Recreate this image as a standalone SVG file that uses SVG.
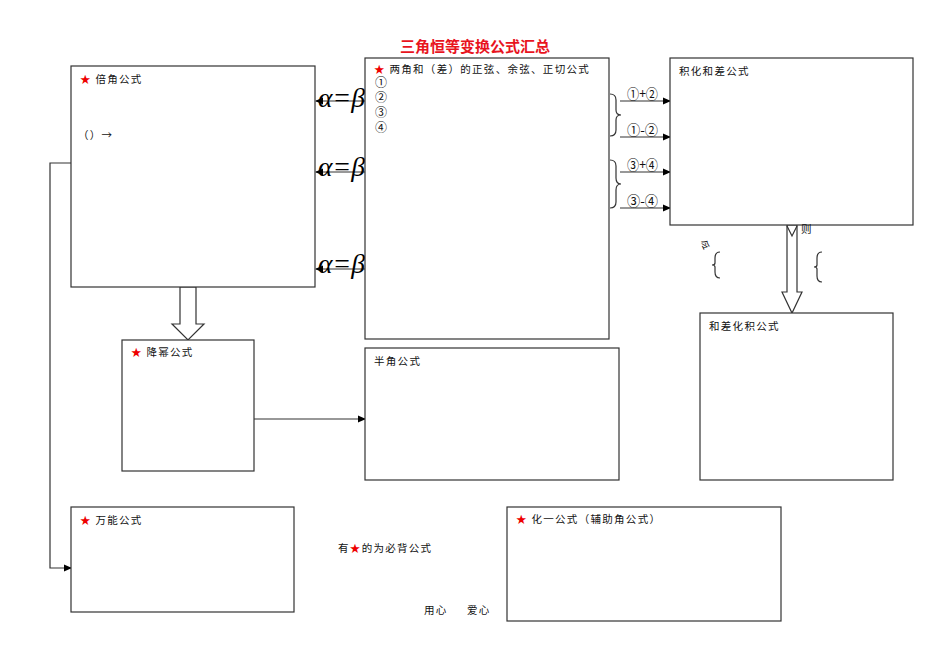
<svg xmlns="http://www.w3.org/2000/svg" width="950" height="672" viewBox="0 0 950 672">
<defs>
<marker id="ah" markerWidth="8" markerHeight="8" refX="7" refY="4" orient="auto" markerUnits="userSpaceOnUse">
<path d="M0,0.5 L8,4 L0,7.5 Z" fill="#000"/>
</marker>
<style>
.box{fill:#fff;stroke:#333;stroke-width:1.2}
.t{font-family:"Noto Sans CJK SC","Noto Sans CJK JP",sans-serif;font-size:10.5px;fill:#111;letter-spacing:1.3px}
.s{fill:#e00}
.ln{stroke:#333;stroke-width:1.2;fill:none}
.ab{font-family:"Liberation Serif",serif;font-style:italic;font-size:28px;fill:#000}
.lab{font-family:"Noto Sans CJK SC","Noto Sans CJK JP",sans-serif;font-size:14px;fill:#111}
.num{font-family:"Noto Sans CJK SC","Noto Sans CJK JP",sans-serif;font-size:12px;fill:#111}
</style>
</defs>
<rect width="950" height="672" fill="#fff"/>
<text x="475" y="52" text-anchor="middle" font-family="Noto Sans CJK SC,sans-serif" font-size="15" font-weight="bold" fill="#e8141e">三角恒等变换公式汇总</text>

<g id="connectors">
<line class="ln" x1="365" y1="101" x2="316" y2="101" marker-end="url(#ah)"/>
<line class="ln" x1="365" y1="172" x2="316" y2="172" marker-end="url(#ah)"/>
<line class="ln" x1="365" y1="269" x2="316" y2="269" marker-end="url(#ah)"/>
<line class="ln" x1="620" y1="101" x2="670" y2="101" marker-end="url(#ah)"/>
<line class="ln" x1="620" y1="137" x2="670" y2="137" marker-end="url(#ah)"/>
<line class="ln" x1="620" y1="172" x2="670" y2="172" marker-end="url(#ah)"/>
<line class="ln" x1="620" y1="208" x2="670" y2="208" marker-end="url(#ah)"/>
<path class="ln" d="M610,94 Q616,94 616,100 L616,110 Q616,115 621,115 Q616,115 616,120 L616,130 Q616,136 610,136"/>
<path class="ln" d="M610,160 Q616,160 616,166 L616,178 Q616,184 621,184 Q616,184 616,190 L616,202 Q616,208 610,208"/>
<line class="ln" x1="254" y1="419" x2="365" y2="419" marker-end="url(#ah)"/>
<polyline class="ln" points="71,163 50,163 50,568 71,568" marker-end="url(#ah)"/>
<path d="M180,287 L180,324 L172,324 L188,340 L204,324 L196,324 L196,287 Z" fill="#fff" stroke="#333" stroke-width="1.2"/>
<path d="M787,225 L787,292 L782,292 L792,313 L802,292 L797,292 L797,225 Z" fill="#fff" stroke="#333" stroke-width="1.2"/>
<path class="ln" d="M787,226 L792,236 L797,226"/>
</g>

<g id="ab-labels">
<text class="ab" x="318" y="107" textLength="47" lengthAdjust="spacingAndGlyphs">α=β</text>
<text class="ab" x="318" y="176" textLength="47" lengthAdjust="spacingAndGlyphs">α=β</text>
<text class="ab" x="318" y="273" textLength="47" lengthAdjust="spacingAndGlyphs">α=β</text>
<text class="lab" x="627" y="99" textLength="31" lengthAdjust="spacingAndGlyphs">①+②</text>
<text class="lab" x="627" y="135" textLength="31" lengthAdjust="spacingAndGlyphs">①-②</text>
<text class="lab" x="627" y="170" textLength="31" lengthAdjust="spacingAndGlyphs">③+④</text>
<text class="lab" x="627" y="206" textLength="31" lengthAdjust="spacingAndGlyphs">③-④</text>
</g>

<g id="node-beijiao">
<rect class="box" x="71" y="66" width="244" height="221"/>
<text class="t" x="80" y="83"><tspan class="s">★</tspan> 倍角公式</text>
<text class="t" x="78" y="139">（）→</text>
</g>

<g id="node-liangjiao">
<rect class="box" x="365" y="58" width="244" height="281"/>
<text class="t" x="374" y="73"><tspan class="s">★</tspan> 两角和（差）的正弦、余弦、正切公式</text>
<text class="num" x="375" y="87">①</text>
<text class="num" x="375" y="102">②</text>
<text class="num" x="375" y="117">③</text>
<text class="num" x="375" y="132">④</text>
</g>

<g id="node-jihua">
<rect class="box" x="670" y="58" width="243" height="167"/>
<text class="t" x="679" y="75">积化和差公式</text>
</g>

<g id="node-hecha">
<rect class="box" x="700" y="313" width="193" height="167"/>
<text class="t" x="709" y="330">和差化积公式</text>
</g>
<g id="hecha-notes">
<text class="t" x="801" y="233">则</text>
<text class="t" x="700" y="249" transform="rotate(30 705 244)">令</text>
<path class="ln" d="M720,252 Q715,252 715,258 L715,263 Q715,265 712,265 Q715,265 715,267 L715,272 Q715,278 720,278"/>
<path class="ln" d="M822,252 Q817,252 817,258 L817,265 Q817,267 814,267 Q817,267 817,269 L817,276 Q817,282 822,282"/>
</g>

<g id="node-jiangmi">
<rect class="box" x="122" y="340" width="132" height="131"/>
<text class="t" x="131" y="356"><tspan class="s">★</tspan> 降幂公式</text>
</g>

<g id="node-banjiao">
<rect class="box" x="365" y="348" width="254" height="132"/>
<text class="t" x="374" y="365">半角公式</text>
</g>

<g id="node-wanneng">
<rect class="box" x="71" y="507" width="223" height="105"/>
<text class="t" x="80" y="524"><tspan class="s">★</tspan> 万能公式</text>
</g>

<g id="node-huayi">
<rect class="box" x="507" y="507" width="274" height="114"/>
<text class="t" x="516" y="523"><tspan class="s">★</tspan> 化一公式（辅助角公式）</text>
</g>

<g id="notes">
<text class="t" x="338" y="552">有<tspan class="s">★</tspan>的为必背公式</text>
<text class="t" x="424" y="614" font-size="9.5">用心</text>
<text class="t" x="467" y="614" font-size="9.5">爱心</text>
</g>
</svg>
